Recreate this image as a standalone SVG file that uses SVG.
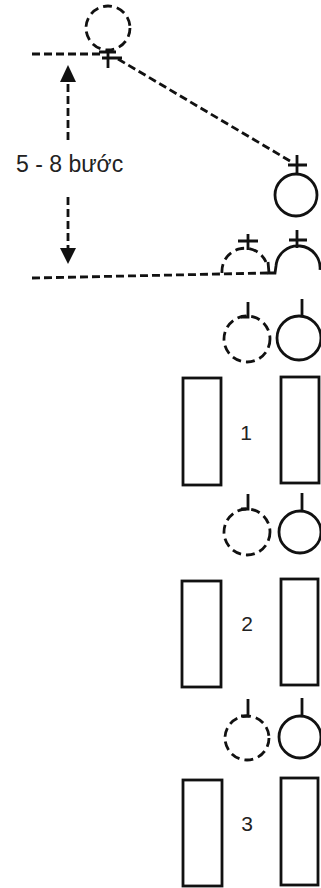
<svg xmlns="http://www.w3.org/2000/svg" width="321" height="888" viewBox="0 0 321 888">
<style>
.s{fill:none;stroke:#111;stroke-width:2.8}
.d{fill:none;stroke:#111;stroke-width:2.8;stroke-dasharray:8 4}
.dc{fill:none;stroke:#111;stroke-width:2.8;stroke-dasharray:9 5}
.t{font-family:"Liberation Sans",Arial,sans-serif;font-size:23px;fill:#222}
.n{font-family:"Liberation Sans",Arial,sans-serif;font-size:21px;fill:#222;text-anchor:middle;dominant-baseline:central}
</style>
<rect width="321" height="888" fill="#fff"/>
<g id="connectors">
<path class="d" d="M32,54 L100,54"/>
<path class="d" d="M118,59 L290,161"/>
<path class="d" d="M32,278 L268,273"/>
<path class="d" d="M68,140 L68,82"/>
<path d="M68,65 L76,82 L60,82 Z" fill="#111"/>
<path class="d" d="M68,197 L68,248"/>
<path d="M68,264 L76,248 L60,248 Z" fill="#111"/>
<text class="t" x="16" y="172">5 - 8 bước</text>
</g>
<g id="start">
<circle class="dc" cx="108" cy="28" r="22"/>
<path class="s" d="M108,49 L108,68 M99,52 L116,52 M102,58 L122,58"/>
</g>
<g id="pos-a">
<circle class="s" cx="296" cy="195" r="21"/>
<path class="s" d="M297,155 L297,173 M288,165 L307,165"/>
</g>
<g id="pos-b">
<path class="dc" d="M222,273 A23,23 0 0 1 266,262"/>
<path class="s" d="M248,234 L248,250 M238,241 L258,241"/>
<path class="s" d="M268,262 L269,273 L275,273 L276,266 A22,22 0 0 1 320,270"/>
<path class="s" d="M297,230 L297,248 M289,240 L307,240"/>
</g>
<g id="row1-players">
<circle class="dc" cx="247" cy="339" r="23"/>
<path class="s" d="M248,302 L248,317 L241,317"/>
<circle class="s" cx="299" cy="338" r="22"/>
<path class="s" d="M302,299 L302,316"/>
</g>
<g id="row1-gate">
<rect class="s" x="183" y="378" width="38" height="107"/>
<rect class="s" x="281" y="377" width="38" height="106"/>
<text class="n" x="246" y="432">1</text>
</g>
<g id="row2-players">
<circle class="dc" cx="247" cy="532" r="23"/>
<path class="s" d="M248,494 L248,509 L241,509"/>
<circle class="s" cx="300" cy="532" r="21"/>
<path class="s" d="M302,493 L302,511"/>
</g>
<g id="row2-gate">
<rect class="s" x="182" y="581" width="39" height="106"/>
<rect class="s" x="281" y="579" width="37" height="106"/>
<text class="n" x="247" y="623">2</text>
</g>
<g id="row3-players">
<circle class="dc" cx="247" cy="738" r="22"/>
<path class="s" d="M248,699 L248,716 L241,716"/>
<circle class="s" cx="300" cy="737" r="21"/>
<path class="s" d="M302,698 L302,716"/>
</g>
<g id="row3-gate">
<rect class="s" x="183" y="780" width="39" height="106"/>
<rect class="s" x="281" y="778" width="37" height="107"/>
<text class="n" x="247" y="823">3</text>
</g>
</svg>
